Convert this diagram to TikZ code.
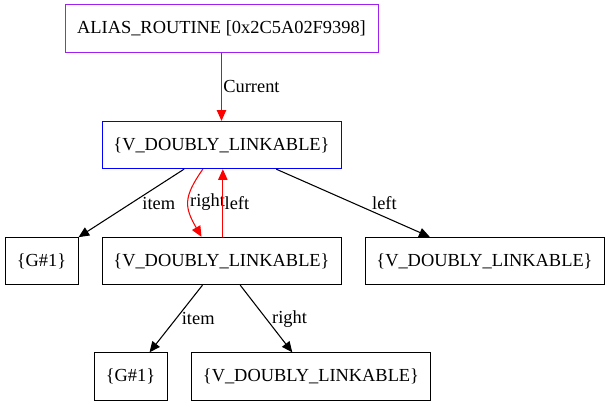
\documentclass[tikz,border=0pt]{standalone}
\usepackage{fontspec}
\setmainfont{Liberation Serif}
\usetikzlibrary{arrows.meta}
\definecolor{gvpurple}{RGB}{160,32,240}

\begin{document}
\begin{tikzpicture}[x=0.75pt, y=-0.75pt, font=\fontsize{13.8}{16}\selectfont,
		box/.style={draw, line width=0.75pt, minimum height=35.5pt, inner sep=0pt},
		lbl/.style={inner sep=1pt, anchor=west, text=black},
		edge/.style={line width=0.8pt, -{Triangle[length=8pt, width=7pt]}}]
		\useasboundingbox (0,0) rectangle (609,407);
		\node[box, draw=gvpurple, minimum width=234.75pt] at (221.5,28.5) (alias) {ALIAS\_ROUTINE [0x2C5A02F9398]};
		\node[box, draw=blue, minimum width=179.25pt] at (221.5,145) (v1) {\{V\_DOUBLY\_LINKABLE\}};
		\node[box, minimum width=54.75pt] at (41.5,261) (g1) {\{G\#1\}};
		\node[box, minimum width=179.25pt] at (221.5,261) (v2) {\{V\_DOUBLY\_LINKABLE\}};
		\node[box, minimum width=179.25pt] at (484.5,261) (v3) {\{V\_DOUBLY\_LINKABLE\}};
		\node[box, minimum width=54.75pt] at (130.5,376.5) (g2) {\{G\#1\}};
		\node[box, minimum width=179.25pt] at (311,376.5) (v4) {\{V\_DOUBLY\_LINKABLE\}};
		\draw[edge, red] (alias) -- node[lbl] {Current} (v1);
		\draw[edge] (v1) -- node[lbl, xshift=7pt] {item} (g1);
		\draw[edge, red] ([xshift=-14pt]v1.south) to[out=-125, in=120, looseness=1.3] node[lbl] {right} ([xshift=-15pt]v2.north);
		\draw[edge, red] ([xshift=1pt]v2.north) -- node[lbl] {left} ([xshift=1pt]v1.south);
		\draw[edge] (v1) -- node[lbl, xshift=13pt] {left} (v3);
		\draw[edge] (v2) -- node[lbl, xshift=3pt] {item} (g2);
		\draw[edge] (v2) -- node[lbl, xshift=3pt] {right} (v4);
	\end{tikzpicture}
\end{document}
